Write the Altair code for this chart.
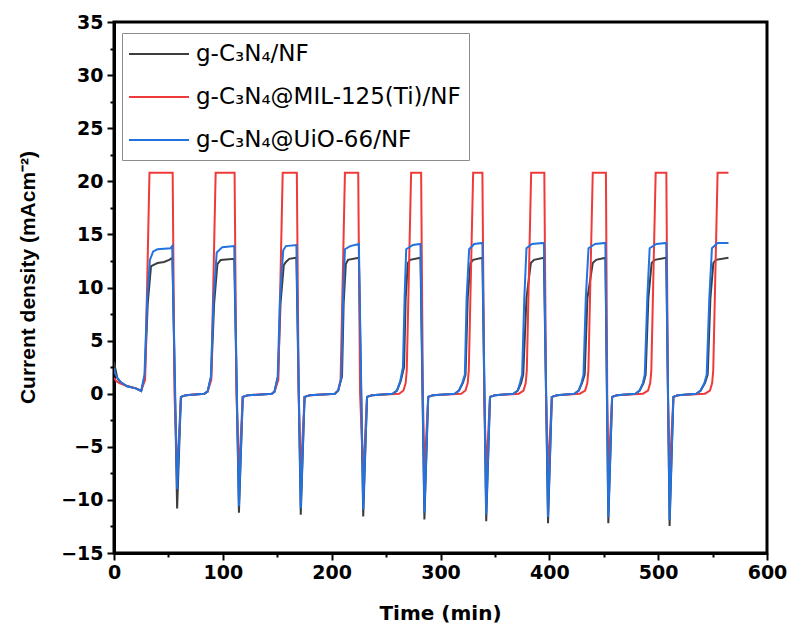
import altair as alt
import pandas as pd

SERIES = ["g-C₃N₄/NF", "g-C₃N₄@MIL-125(Ti)/NF", "g-C₃N₄@UiO-66/NF"]
COLORS = ["#3d3d3d", "#f03a3a", "#2272e0"]

# g-C3N4/NF
t_black = [0, 1.5, 3, 6, 12, 20, 25, 28.3, 31, 34, 36, 40, 46, 50.7, 53.7, 58, 61.5, 66,
           83, 86, 89.3, 92, 95, 98, 110.5, 114.8, 118.3, 123,
           145, 147.5, 150.7, 153, 156, 158, 161, 167.6, 171.6, 175.1, 180,
           203, 206, 209.5, 211, 213, 215, 225, 229, 232.5, 237,
           256, 260, 263.5, 266.5, 268, 270, 272, 281.6, 285.2, 288.7, 293,
           313, 317, 320.5, 323, 325, 327.5, 330, 338.5, 342, 345.5, 350,
           367, 371, 374, 376, 379, 383, 386, 395, 398.8, 402.3, 407,
           423, 427, 430, 432.5, 435, 439.9, 443, 451.5, 454.2, 457.7, 462,
           479, 483, 486.5, 488.5, 491, 494, 497, 507.4, 510.5, 514, 518,
           535, 539, 543, 545.5, 548, 550.7, 553, 564.6]
y_black = [3.0, 2.2, 1.5, 1.1, 0.7, 0.5, 0.25, 1.6, 8.5, 12.0, 12.1, 12.3, 12.4, 12.6, 12.8, -10.8, -0.3, -0.15,
           0.0, 0.2, 1.6, 8.5, 12.2, 12.6, 12.7, -11.2, -0.3, -0.15,
           0.0, 0.2, 1.6, 8.5, 12.1, 12.4, 12.7, 12.8, -11.4, -0.3, -0.15,
           0.0, 0.3, 1.6, 8.5, 12.2, 12.6, 12.8, -11.55, -0.3, -0.15,
           0.0, 0.3, 1.2, 2.5, 9.0, 12.3, 12.6, 12.8, -11.85, -0.3, -0.15,
           0.0, 0.3, 1.0, 1.8, 9.0, 12.3, 12.6, 12.8, -12.0, -0.3, -0.15,
           0.0, 0.3, 1.0, 1.8, 9.0, 12.3, 12.6, 12.8, -12.2, -0.3, -0.15,
           0.0, 0.3, 1.0, 1.8, 9.0, 12.3, 12.6, 12.8, -12.2, -0.3, -0.15,
           0.0, 0.3, 1.0, 1.8, 9.0, 12.3, 12.6, 12.8, -12.45, -0.3, -0.15,
           0.0, 0.3, 1.0, 1.8, 9.0, 12.3, 12.6, 12.8]

# g-C3N4@MIL-125(Ti)/NF
t_red = [0, 2, 5, 10, 20, 25, 28.6, 32.6, 53.9, 55.6, 58, 61.5, 66,
         83, 86, 89.4, 93.4, 110.8, 112.5, 114.8, 118.3, 123,
         145, 147.5, 151, 155, 168, 169.7, 171.6, 175.1, 180,
         203, 206, 208.2, 212.2, 224.4, 226.1, 229, 232.5, 237,
         262, 266, 268, 269, 273, 282.2, 283.8, 285.2, 288.7, 293,
         319, 323, 325, 326, 330, 338.5, 340.2, 342, 345.5, 350,
         372, 376.3, 378.3, 379.3, 383.3, 395.4, 397, 398.8, 402.3, 407,
         428, 432.9, 434.9, 435.9, 439.9, 452, 453.2, 454.2, 457.7, 462,
         486, 490.7, 492.7, 493.7, 497.7, 507.5, 509, 510.5, 514, 518,
         543, 547.6, 549.6, 550.6, 554.6, 564.6]
y_red = [1.5, 1.2, 1.0, 0.8, 0.5, 0.3, 1.3, 20.8, 20.8, 0.0, -7.5, -0.3, -0.15,
         0.0, 0.2, 1.3, 20.8, 20.8, 0.0, -7.5, -0.3, -0.15,
         0.0, 0.2, 1.3, 20.8, 20.8, 0.0, -7.5, -0.3, -0.15,
         0.0, 0.3, 1.3, 20.8, 20.8, 0.0, -7.5, -0.3, -0.15,
         0.0, 0.3, 1.0, 2.2, 20.8, 20.8, 0.0, -7.5, -0.3, -0.15,
         0.0, 0.3, 1.0, 2.2, 20.8, 20.8, 0.0, -7.5, -0.3, -0.15,
         0.0, 0.3, 1.0, 2.2, 20.8, 20.8, 0.0, -7.5, -0.3, -0.15,
         0.0, 0.3, 1.0, 2.2, 20.8, 20.8, 0.0, -7.5, -0.3, -0.15,
         0.0, 0.3, 1.0, 2.2, 20.8, 20.8, 0.0, -7.5, -0.3, -0.15,
         0.0, 0.3, 1.0, 2.2, 20.8, 20.8]

# g-C3N4@UiO-66/NF
t_blue = [0, 1, 3, 6, 12, 20, 25, 28, 30.5, 33, 36, 40, 52, 53.5, 58, 61.5, 66,
          83, 86, 89, 91.5, 94.4, 99.5, 110.5, 114.8, 118.3, 123,
          145, 147.5, 150.4, 152.5, 155.5, 158, 167.6, 171.6, 175.1, 180,
          203, 206, 209, 210.5, 212.2, 217, 225, 229, 232.5, 237,
          256, 260, 263, 265.5, 267, 268.5, 274.6, 281.6, 285.2, 288.7, 293,
          313, 317, 320, 322.4, 324, 326.3, 331, 338.5, 342, 345.5, 350,
          367, 371, 373, 375, 377, 379, 384, 395, 398.8, 402.3, 407,
          423, 427, 429.5, 431.4, 433.5, 436, 442, 451.5, 454.2, 457.7, 462,
          479, 483, 486, 487.7, 490, 492.2, 498.3, 507.4, 510.5, 514, 518,
          535, 539, 542.5, 544.6, 547, 549.4, 554.6, 564.6]
y_blue = [2.4, 1.9, 1.5, 1.1, 0.7, 0.5, 0.25, 1.8, 9.0, 12.6, 13.4, 13.6, 13.7, 13.9, -9.0, -0.3, -0.15,
          0.0, 0.2, 1.6, 9.0, 13.3, 13.8, 13.9, -10.6, -0.3, -0.15,
          0.0, 0.2, 1.6, 9.0, 13.5, 13.9, 14.0, -10.8, -0.3, -0.15,
          0.0, 0.3, 1.6, 9.0, 13.6, 13.9, 14.1, -10.9, -0.3, -0.15,
          0.0, 0.3, 1.2, 2.5, 9.0, 13.6, 14.0, 14.1, -11.2, -0.3, -0.15,
          0.0, 0.3, 1.0, 1.8, 9.0, 13.6, 14.1, 14.2, -11.4, -0.3, -0.15,
          0.0, 0.3, 1.0, 1.8, 9.0, 13.7, 14.1, 14.2, -11.6, -0.3, -0.15,
          0.0, 0.3, 1.0, 1.8, 9.0, 13.7, 14.1, 14.2, -11.6, -0.3, -0.15,
          0.0, 0.3, 1.0, 1.8, 9.0, 13.7, 14.1, 14.2, -11.9, -0.3, -0.15,
          0.0, 0.3, 1.0, 1.8, 9.0, 13.7, 14.2, 14.2]

X_TICKS = [0, 50, 100, 150, 200, 250, 300, 350, 400, 450, 500, 550, 600]
Y_TICKS = [-15, -12.5, -10, -7.5, -5, -2.5, 0, 2.5, 5, 7.5, 10, 12.5, 15, 17.5,
           20, 22.5, 25, 27.5, 30, 32.5, 35]

rows = []
for name, ts, ys in [(SERIES[0], t_black, y_black), (SERIES[1], t_red, y_red), (SERIES[2], t_blue, y_blue)]:
    for i, (a, b) in enumerate(zip(ts, ys)):
        rows.append({"series": name, "t": a, "y": b, "i": i})
df = pd.DataFrame(rows)

x_axis = alt.Axis(
    values=X_TICKS,
    labelExpr="datum.value % 100 === 0 ? datum.label : ''",
    tickSize={"condition": {"test": "datum.value % 100 === 0", "value": 7}, "value": 4},
    title="Time (min)",
    titleFont="DejaVu Sans", titleFontSize=20, titleFontWeight="bold",
    titleX=326, titleY=66, titleBaseline="alphabetic",
    labelPadding=3, labelFlush=False,
)
y_axis = alt.Axis(
    values=Y_TICKS,
    labelExpr="datum.value % 5 === 0 ? datum.label : ''",
    tickSize={"condition": {"test": "datum.value % 5 === 0", "value": 7}, "value": 4},
    title="Current density (mAcm⁻²)",
    titleFont="Liberation Sans", titleFontSize=21, titleFontWeight="bold",
    titleX=-80, titleY=255, titleAngle=270, titleBaseline="alphabetic", titleAlign="center",
    labelPadding=4, labelFlush=False,
)

chart = alt.Chart(df).mark_line(strokeWidth=2, clip=True).encode(
    x=alt.X("t:Q", scale=alt.Scale(domain=[0, 600], nice=False, zero=False), axis=x_axis),
    y=alt.Y("y:Q", scale=alt.Scale(domain=[-15, 35], nice=False, zero=False), axis=y_axis),
    color=alt.Color(
        "series:N",
        scale=alt.Scale(domain=SERIES, range=COLORS),
        legend=alt.Legend(
            title=None, orient="none", legendX=8, legendY=11,
            fillColor="white", strokeColor="#8c8c8c",
            padding=8, labelFont="DejaVu Sans", labelFontSize=23, labelColor="black",
            labelLimit=500,
            symbolType="M-2.5,0L2.5,0", symbolSize=576, symbolStrokeWidth=2,
            symbolOffset=16, labelOffset=24, rowPadding=18,
        ),
    ),
    order="i:Q",
).properties(
    width=653, height=531,
    autosize=alt.AutoSizeParams(type="none"),
    padding={"left": 106, "top": 14, "right": 20, "bottom": 72},
).configure_view(
    stroke="black", strokeWidth=3
).configure_axis(
    domainColor="black", domainWidth=3, tickColor="black", tickWidth=2,
    labelFont="DejaVu Sans", labelFontSize=19, labelFontWeight="bold", labelColor="black",
    titleColor="black", grid=False,
)

chart.save("out.html", embed_options={"renderer": "svg", "actions": False})
